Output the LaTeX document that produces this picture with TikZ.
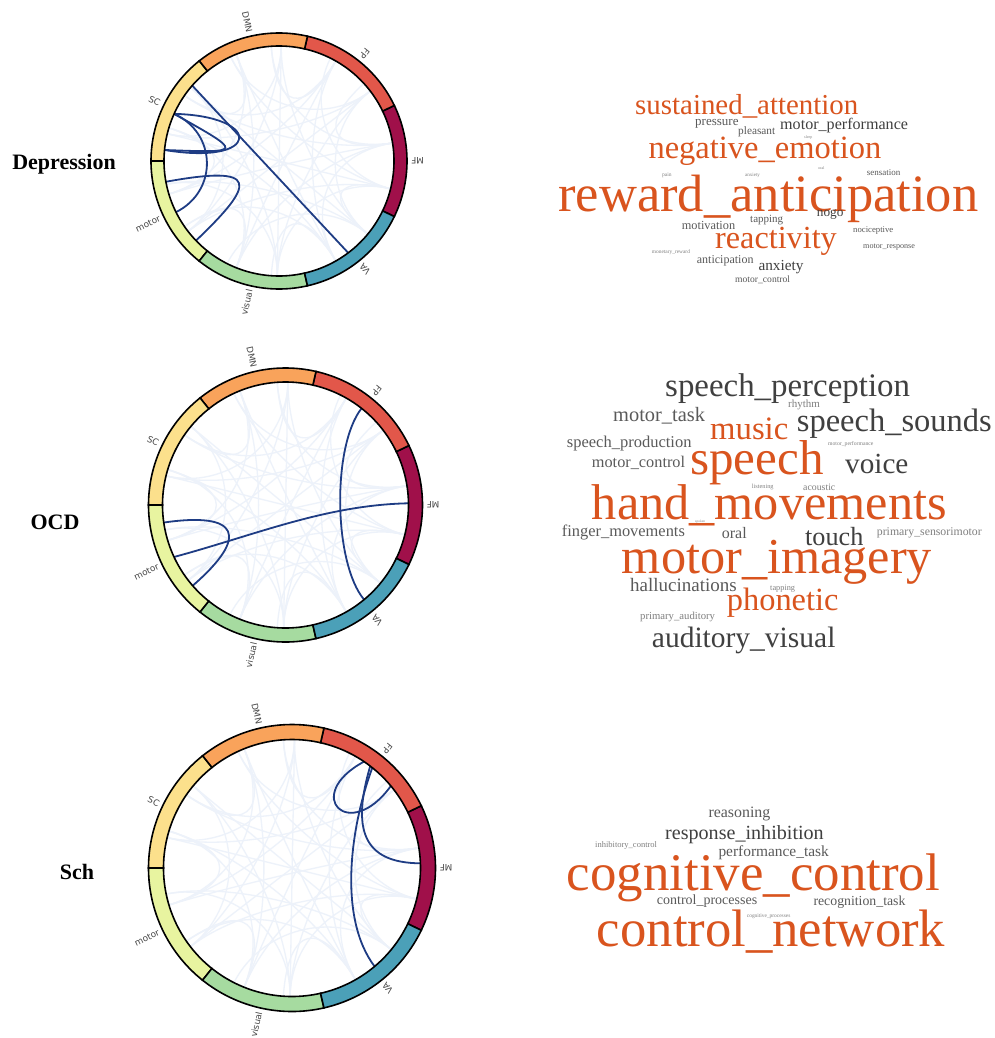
\documentclass[tikz,border=0pt]{standalone}
\usepackage{fontspec}
\setmainfont{Liberation Serif}
\newfontfamily\netfont{DejaVu Sans}
\definecolor{netMF}{HTML}{A0104A}
\definecolor{netFP}{HTML}{E2574A}
\definecolor{netDMN}{HTML}{F9A35B}
\definecolor{netSC}{HTML}{FCE08C}
\definecolor{netMotor}{HTML}{E8F4A0}
\definecolor{netVisual}{HTML}{A6DBA0}
\definecolor{netVA}{HTML}{4BA0B8}
\definecolor{chordblue}{HTML}{1E3C84}
\definecolor{webblue}{HTML}{EDF2FA}
\definecolor{termorange}{HTML}{D9541E}
\definecolor{termdark}{HTML}{404040}
\definecolor{termmid}{HTML}{5A5A5A}
\definecolor{termlight}{HTML}{808080}
\newcommand\termsize[1]{\fontsize{#1}{#1}\selectfont}
\tikzset{
  chord/.style={draw=chordblue, line width=1.8, line cap=round},
  web/.style={draw=webblue, line width=1.3},
  segment/.style={draw=black, line width=1.6},
  netlabel/.style={font=\netfont\termsize{8.8}, text=black!72, inner sep=0, anchor=east},
  rowtitle/.style={font=\bfseries\termsize{22}, inner sep=0, anchor=base},
  term/.style={inner sep=0, anchor=base west},
  tiny/.style={inner sep=0, anchor=west},
}
% coloured ring of the seven networks
\newcommand\netring{%
  \foreach \a/\c in {-25.714/netMF, 25.714/netFP, 77.143/netDMN, 128.571/netSC, 180/netMotor, 231.429/netVisual, 282.857/netVA}{%
    \pgfmathsetmacro\segend{\a+51.4286}%
    \filldraw[segment, fill=\c] (\a:\Rin) arc[start angle=\a, end angle=\segend, radius=\Rin]
      -- (\segend:\Rout) arc[start angle=\segend, end angle=\a, radius=\Rout] -- cycle;
  }%
}
% network names, written towards the ring
\newcommand\netlabels[1]{%
  \node[netlabel, rotate=180]    (#1-MF)     at (0:{\Rout+4})      {MF};
  \node[netlabel, rotate=231.43] (#1-FP)     at (51.43:{\Rout+4})  {FP};
  \node[netlabel, rotate=282.86] (#1-DMN)    at (102.86:{\Rout+4}) {DMN};
  \node[netlabel, rotate=334.29] (#1-SC)     at (154.29:{\Rout+4}) {SC};
  \node[netlabel, rotate=25.71]  (#1-motor)  at (205.71:{\Rout+4}) {motor};
  \node[netlabel, rotate=77.14]  (#1-visual) at (257.14:{\Rout+4}) {visual};
  \node[netlabel, rotate=128.57] (#1-VA)     at (308.57:{\Rout+4}) {VA};
}
% faint background web of all network pairs
\newcommand\netweb{%
  \foreach \i in {0,...,6}{%
    \foreach \j in {0,...,6}{%
      \ifnum\i<\j
        \pgfmathsetmacro\wa{\i*51.4286+9}%
        \pgfmathsetmacro\wb{\j*51.4286-9}%
        \draw[web] (\wa:\Rin) .. controls (\wa:{0.45*\Rin}) and (\wb:{0.45*\Rin}) .. (\wb:\Rin);
        \pgfmathsetmacro\wc{\i*51.4286-14}%
        \pgfmathsetmacro\wd{\j*51.4286+12}%
        \draw[web] (\wc:\Rin) .. controls (\wc:{0.5*\Rin}) and (\wd:{0.5*\Rin}) .. (\wd:\Rin);
      \fi
    }%
  }%
}
\begin{document}
\begin{tikzpicture}[x=1pt, y=-1pt]
\useasboundingbox (0,0) rectangle (995,1038);
\fill[white] (0,0) rectangle (995,1038);

% ---------------- row titles
\node[rowtitle] (t-dep) at (64,169) {Depression};
\node[rowtitle] (t-ocd) at (55,529) {OCD};
\node[rowtitle] (t-sch) at (77,879) {Sch};

% ---------------- Depression circle
\begin{scope}[shift={(279,161)}, yscale=-1]
  \def\Rin{115}\def\Rout{128}
  \netweb
  \draw[chord] (139:115) -- (-53:115);
  \draw[chord] (155.8:115) .. controls (-15,45) and (-18,-5) .. (174.5:115);
  \draw[chord] (155.8:115) .. controls (-35,8) and (-35,8) .. (174.5:115);
  \draw[chord] (155.8:115) .. controls (155.8:68) and (206.4:68) .. (206.4:115);
  \draw[chord] (190.4:115) .. controls (-18.8,-3.6) and (-22.6,-21.9) .. (223.8:115);
  \netring
  \netlabels{dep}
\end{scope}

% ---------------- OCD circle
\begin{scope}[shift={(285.5,505)}, yscale=-1]
  \def\Rin{123}\def\Rout{137}
  \netweb
  \draw[chord] (51.8:123) .. controls (51.8:75) and (-50.3:75) .. (-50.3:123);
  \draw[chord] (0.8:123) .. controls (40,0) and (-30,-30) .. (205:123);
  \draw[chord] (188.2:123) .. controls (-46.5,-6.6) and (-35.4,-30.8) .. (221:123);
  \netring
  \netlabels{ocd}
\end{scope}

% ---------------- Sch circle
\begin{scope}[shift={(292,868)}, yscale=-1]
  \def\Rin{128.5}\def\Rout{143.5}
  \netweb
  \draw[chord] (55.9:128.5) .. controls (9.3,72.6) and (57.3,24.3) .. (39.7:128.5);
  \draw[chord] (51.3:128.5) .. controls (58,40) and (46,-50) .. (-50:128.5);
  \draw[chord] (52.5:128.5) .. controls (60,40) and (70,5) .. (2.1:128.5);
  \netring
  \netlabels{sch}
\end{scope}

% ---------------- Depression terms
\node[term, text=termorange, font=\termsize{28.9}] (d1) at (635,115) {sustained\_attention};
\node[term, text=termmid, font=\termsize{13}] (d2) at (695,125) {pressure};
\node[term, text=termdark, font=\termsize{16.1}] (d3) at (780,129.3) {motor\_performance};
\node[term, text=termmid, font=\termsize{11.3}] (d4) at (738,135) {pleasant};
\node[tiny, text=termlight, font=\termsize{4}] (d5) at (804,138) {sleep};
\node[term, text=termorange, font=\termsize{32.5}] (d6) at (648.3,158.3) {negative\_emotion};
\node[tiny, text=termlight, font=\termsize{5.5}] (d7) at (662,175) {pain};
\node[tiny, text=termlight, font=\termsize{5}] (d8) at (745,175) {anxiety};
\node[tiny, text=termlight, font=\termsize{4}] (d9) at (818,168) {oral};
\node[tiny, text=termmid, font=\termsize{9}] (d10) at (866.7,173) {sensation};
\node[term, text=termorange, font=\termsize{52.5}] (d11) at (558.3,211.7) {reward\_anticipation};
\node[term, text=termdark, font=\termsize{13.3}] (d12) at (816.7,216) {nogo};
\node[term, text=termmid, font=\termsize{11}] (d13) at (750,222) {tapping};
\node[term, text=termmid, font=\termsize{12.3}] (d14) at (681.7,229) {motivation};
\node[tiny, text=termmid, font=\termsize{8.7}] (d15) at (853,230.7) {nociceptive};
\node[term, text=termorange, font=\termsize{32.2}] (d16) at (715,248) {reactivity};
\node[tiny, text=termmid, font=\termsize{8.1}] (d17) at (863,246.7) {motor\_response};
\node[tiny, text=termlight, font=\termsize{5.4}] (d18) at (651.7,252) {monetary\_reward};
\node[term, text=termmid, font=\termsize{12}] (d19) at (696.7,263.3) {anticipation};
\node[term, text=termdark, font=\termsize{15.3}] (d20) at (758.3,270.5) {anxiety};
\node[tiny, text=termmid, font=\termsize{9.6}] (d21) at (735,280) {motor\_control};

% ---------------- OCD terms
\node[term, text=termdark, font=\termsize{32.9}] (o1) at (665,396) {speech\_perception};
\node[tiny, text=termlight, font=\termsize{11}] (o2) at (788,405) {rhythm};
\node[term, text=termmid, font=\termsize{20.4}] (o3) at (613,421) {motor\_task};
\node[term, text=termorange, font=\termsize{32.7}] (o4) at (710,439) {music};
\node[term, text=termdark, font=\termsize{32.5}] (o5) at (796.7,431.5) {speech\_sounds};
\node[term, text=termmid, font=\termsize{16.5}] (o6) at (566.7,447.3) {speech\_production};
\node[tiny, text=termlight, font=\termsize{5.7}] (o7) at (828,444) {motor\_performance};
\node[term, text=termmid, font=\termsize{16.3}] (o8) at (591.7,467.7) {motor\_control};
\node[term, text=termorange, font=\termsize{49}] (o9) at (690,474.5) {speech};
\node[term, text=termdark, font=\termsize{29.2}] (o10) at (845,473.3) {voice};
\node[tiny, text=termlight, font=\termsize{6.3}] (o11) at (751.7,487) {listening};
\node[tiny, text=termlight, font=\termsize{9.8}] (o12) at (803,487) {acoustic};
\node[term, text=termorange, font=\termsize{50.3}] (o13) at (591.7,519.3) {hand\_movements};
\node[tiny, text=termlight, font=\termsize{3.5}] (o14) at (695,521.7) {spoken};
\node[term, text=termmid, font=\termsize{16.4}] (o15) at (561.7,536) {finger\_movements};
\node[term, text=termmid, font=\termsize{16}] (o16) at (721.7,538) {oral};
\node[term, text=termdark, font=\termsize{26.2}] (o17) at (805,545) {touch};
\node[tiny, text=termlight, font=\termsize{11.8}] (o18) at (876.7,532.7) {primary\_sensorimotor};
\node[term, text=termorange, font=\termsize{50.3}] (o19) at (621.7,573.3) {motor\_imagery};
\node[term, text=termmid, font=\termsize{19}] (o20) at (630,591) {hallucinations};
\node[tiny, text=termlight, font=\termsize{8.3}] (o21) at (770,589) {tapping};
\node[term, text=termorange, font=\termsize{32.4}] (o22) at (726.7,610.7) {phonetic};
\node[tiny, text=termlight, font=\termsize{10.7}] (o23) at (640,617) {primary\_auditory};
\node[term, text=termdark, font=\termsize{29.5}] (o24) at (651.7,647.3) {auditory\_visual};

% ---------------- Sch terms
\node[term, text=termmid, font=\termsize{15.9}] (s1) at (708.3,817.3) {reasoning};
\node[term, text=termdark, font=\termsize{20.1}] (s2) at (665,839) {response\_inhibition};
\node[tiny, text=termlight, font=\termsize{8.5}] (s3) at (595,845) {inhibitory\_control};
\node[term, text=termmid, font=\termsize{15.4}] (s4) at (718.3,856.7) {performance\_task};
\node[term, text=termorange, font=\termsize{52.9}] (s5) at (566.7,890) {cognitive\_control};
\node[term, text=termmid, font=\termsize{14}] (s6) at (656.7,904.3) {control\_processes};
\node[term, text=termmid, font=\termsize{13.8}] (s7) at (813.3,905) {recognition\_task};
\node[tiny, text=termlight, font=\termsize{5.4}] (s8) at (746.7,916.7) {cognitive\_processes};
\node[term, text=termorange, font=\termsize{52.7}] (s9) at (596.7,946.7) {control\_network};
\end{tikzpicture}
\end{document}
